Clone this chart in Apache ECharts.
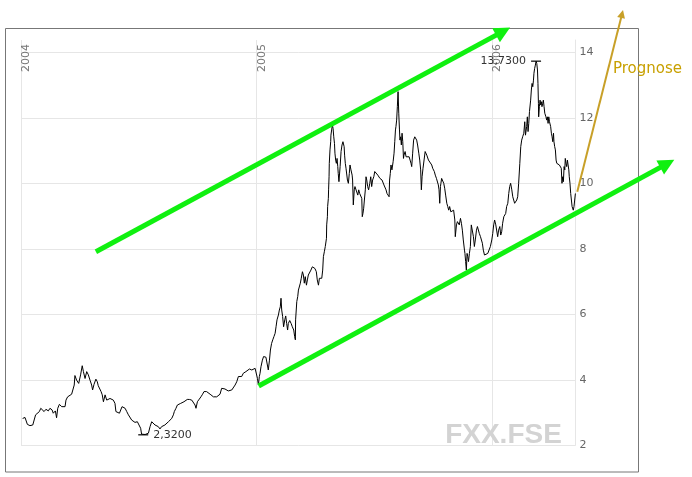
<!DOCTYPE html>
<html><head><meta charset="utf-8">
<script src="https://cdn.jsdelivr.net/npm/echarts@6/dist/echarts.min.js"></script>
<style>html,body{margin:0;padding:0;background:#fff}#c{width:692px;height:477px}</style>
</head><body><div id="c"></div>
<script>
// Time positions (decimal years) and closing prices
const years = [
2004.007,2004.017,2004.027,2004.038,2004.050,2004.058,2004.062,2004.069,2004.078,2004.084,
2004.092,2004.098,2004.106,2004.116,2004.123,2004.132,2004.137,2004.146,2004.151,2004.156,
2004.163,2004.173,2004.180,2004.187,2004.191,2004.198,2004.205,2004.215,2004.222,2004.226,
2004.229,2004.236,2004.245,2004.253,2004.260,2004.265,2004.272,2004.279,2004.286,2004.293,
2004.300,2004.304,2004.310,2004.318,2004.324,2004.328,2004.335,2004.340,2004.345,2004.350,
2004.357,2004.364,2004.371,2004.378,2004.385,2004.392,2004.399,2004.403,2004.409,2004.418,
2004.423,2004.429,2004.435,2004.442,2004.449,2004.456,2004.463,2004.470,2004.477,2004.484,
2004.494,2004.501,2004.508,2004.512,2004.519,2004.527,2004.531,2004.541,2004.548,2004.555,
2004.562,2004.569,2004.576,2004.583,2004.590,2004.597,2004.604,2004.611,2004.619,2004.626,
2004.633,2004.640,2004.647,2004.651,2004.658,2004.664,2004.672,2004.678,2004.685,2004.692,
2004.699,2004.706,2004.715,2004.725,2004.732,2004.739,2004.743,2004.749,2004.757,2004.764,
2004.771,2004.777,2004.783,2004.788,2004.796,2004.803,2004.810,2004.817,2004.824,2004.831,
2004.838,2004.845,2004.852,2004.859,2004.866,2004.873,2004.880,2004.887,2004.895,2004.902,
2004.909,2004.916,2004.923,2004.930,2004.937,2004.944,2004.955,2004.961,2004.970,2004.980,
2004.987,2004.994,2004.998,2005.004,2005.008,
2005.012,2005.015,2005.019,2005.025,2005.030,2005.036,2005.040,2005.045,2005.050,2005.055,
2005.059,2005.064,2005.069,2005.074,2005.079,2005.083,2005.087,2005.093,2005.097,2005.101,
2005.104,2005.107,2005.111,2005.115,2005.120,2005.124,2005.128,2005.132,2005.135,2005.141,
2005.147,2005.152,2005.158,2005.162,2005.165,2005.166,2005.171,2005.175,2005.178,2005.182,
2005.186,2005.190,2005.195,2005.199,2005.203,2005.207,2005.212,2005.216,2005.220,2005.226,
2005.231,2005.237,2005.243,2005.248,2005.254,2005.258,2005.263,2005.267,2005.272,2005.277,
2005.281,2005.284,2005.288,2005.292,2005.297,2005.298,2005.301,2005.302,2005.305,2005.306,
2005.308,2005.309,2005.312,2005.315,2005.316,2005.319,2005.322,2005.325,2005.328,2005.331,
2005.333,2005.336,2005.339,2005.342,2005.345,2005.347,2005.350,
2005.355,2005.359,2005.363,2005.367,2005.372,2005.374,2005.377,2005.380,2005.386,2005.390,
2005.394,2005.397,2005.401,2005.406,2005.408,2005.411,2005.415,2005.418,2005.423,2005.425,
2005.430,2005.434,2005.438,2005.442,2005.447,2005.449,2005.452,2005.455,2005.458,2005.462,
2005.465,2005.468,2005.472,2005.476,2005.481,2005.485,2005.489,2005.493,2005.498,2005.502,
2005.506,2005.510,2005.515,2005.519,2005.524,2005.529,2005.533,2005.537,2005.541,2005.546,
2005.550,2005.554,2005.558,2005.563,2005.565,2005.568,2005.571,2005.575,2005.580,2005.584,
2005.587,2005.590,2005.592,2005.595,2005.598,2005.601,2005.604,2005.607,2005.609,2005.612,
2005.615,2005.618,2005.621,2005.624,2005.626,2005.631,2005.635,2005.639,2005.643,2005.648,
2005.652,2005.656,2005.659,2005.663,2005.667,2005.672,2005.676,2005.680,2005.684,2005.689,
2005.693,2005.697,2005.700,2005.703,2005.707,2005.711,
2005.716,2005.720,2005.723,2005.727,2005.730,2005.734,2005.738,2005.744,2005.748,2005.752,
2005.755,2005.759,2005.764,2005.768,2005.772,2005.775,2005.778,2005.781,2005.783,2005.786,
2005.791,2005.795,2005.799,2005.803,2005.808,2005.812,2005.816,2005.820,2005.825,2005.829,
2005.833,2005.837,2005.842,2005.844,2005.849,2005.853,2005.857,2005.861,2005.866,2005.870,
2005.874,2005.878,2005.883,2005.885,2005.888,2005.891,2005.894,2005.897,2005.900,2005.904,
2005.908,2005.912,2005.917,2005.921,2005.925,2005.929,2005.934,2005.938,2005.942,2005.946,
2005.951,2005.955,2005.959,2005.963,2005.968,2005.972,2005.976,2005.982,2005.987,2005.993,
2005.999,2006.003,2006.007,2006.011,2006.016,2006.020,2006.024,2006.028,2006.033,2006.037,
2006.041,2006.045,2006.050,2006.054,
2006.058,2006.062,2006.067,2006.071,2006.075,2006.079,2006.084,2006.088,2006.092,2006.096,
2006.101,2006.105,2006.109,2006.113,2006.118,2006.122,2006.126,2006.130,2006.135,2006.139,
2006.142,2006.144,2006.147,2006.150,2006.153,2006.156,2006.159,2006.161,2006.164,2006.167,
2006.170,2006.173,2006.176,2006.178,2006.181,2006.184,2006.187,2006.190,2006.193,2006.195,
2006.197,2006.198,2006.201,2006.204,2006.207,2006.210,2006.212,2006.215,2006.218,2006.221,
2006.224,2006.227,2006.229,2006.232,2006.235,2006.238,2006.241,2006.244,2006.246,2006.249,
2006.252,2006.255,2006.258,2006.261,2006.263,2006.266,2006.269,2006.272,2006.275,2006.278,
2006.282,2006.286,2006.290,2006.294,2006.297,2006.300,2006.303,2006.306,2006.309,2006.311,
2006.314,2006.317,2006.320,2006.323,2006.326,2006.328,2006.331,2006.334,2006.337,2006.340,
2006.343,2006.345,2006.348,2006.351,2006.354
];
const prices = [
2.82,2.85,2.64,2.60,2.62,2.67,2.93,2.87,3.03,3.13,
3.11,3.03,3.10,3.05,3.13,3.08,2.98,3.05,2.84,3.13,
3.25,3.18,3.23,3.18,3.38,3.48,3.54,3.56,3.56,3.84,
4.13,3.99,3.89,4.15,4.43,4.25,4.04,4.25,4.15,3.99,
3.84,3.69,3.86,4.02,3.94,3.82,3.79,3.64,3.54,3.33,
3.54,3.38,3.43,3.43,3.43,3.38,3.28,3.03,3.01,2.98,
3.03,3.18,3.23,3.13,3.03,2.93,2.87,2.77,2.72,2.70,
2.72,2.72,2.52,2.34,2.32,2.33,2.34,2.37,2.57,2.72,
2.67,2.62,2.57,2.57,2.50,2.57,2.60,2.62,2.67,2.72,
2.77,2.82,2.93,3.03,3.13,3.23,3.23,3.28,3.33,3.33,
3.38,3.40,3.40,3.38,3.33,3.23,3.13,3.33,3.41,3.48,
3.56,3.64,3.59,3.64,3.66,3.56,3.52,3.48,3.54,3.48,
3.45,3.56,3.74,3.74,3.72,3.69,3.66,3.62,3.69,3.74,
3.84,3.94,4.10,4.15,4.10,4.20,4.25,4.30,4.33,4.30,
4.35,4.35,4.30,4.04,3.84,
4.10,4.20,4.40,4.60,4.71,4.66,4.69,4.63,4.30,4.60,
4.91,5.11,5.22,5.32,5.42,5.62,5.83,5.98,6.13,6.23,
6.49,6.13,5.93,5.62,5.83,5.95,5.72,5.52,5.72,5.81,
5.72,5.62,5.52,5.32,5.22,5.83,6.39,6.54,6.74,6.69,
6.95,7.10,7.30,7.20,6.95,7.15,6.89,7.05,7.20,7.25,
7.35,7.45,7.47,7.40,7.30,7.05,6.89,7.10,7.15,7.10,
7.35,7.76,7.91,8.07,8.32,8.73,8.98,9.29,9.54,9.80,
10.20,10.61,11.02,11.27,11.47,11.63,11.78,11.68,11.42,11.22,
10.92,10.71,10.61,10.76,10.51,10.30,10.05,
10.51,10.97,11.17,11.27,11.12,10.86,10.61,10.46,10.10,10.00,
10.30,10.56,10.41,10.25,10.10,9.34,9.80,9.90,9.85,9.85,
9.64,9.80,9.69,9.64,9.54,8.98,9.08,9.24,9.49,9.80,
10.20,10.10,9.90,9.80,10.00,10.20,9.90,10.10,10.20,10.36,
10.41,10.36,10.25,10.20,10.15,10.20,10.10,10.05,9.95,9.95,
9.80,9.69,9.64,9.59,10.10,10.30,10.56,10.41,10.66,10.92,
11.27,11.63,11.73,11.93,12.34,12.80,12.14,11.63,11.32,11.42,
11.17,11.53,11.27,10.76,10.86,10.97,10.81,10.86,10.76,10.81,
10.71,10.61,10.51,10.92,11.32,11.42,11.47,11.32,11.17,10.92,
10.71,10.41,9.80,10.20,10.46,10.51,
10.97,11.02,10.86,10.92,10.71,10.66,10.71,10.56,10.46,10.51,
10.36,10.25,10.15,10.20,9.95,9.80,9.39,9.90,10.00,10.15,
10.10,10.00,9.85,9.64,9.39,9.29,9.18,9.29,9.13,9.18,
9.08,9.18,8.88,8.37,8.73,8.83,8.78,8.73,8.93,8.78,
8.57,8.27,7.96,7.86,7.61,7.35,7.86,7.76,7.61,7.86,
8.07,8.73,8.68,8.37,8.07,8.27,8.57,8.68,8.63,8.47,
8.37,8.32,8.17,7.96,7.81,7.86,7.78,7.86,7.81,8.07,
8.27,8.47,8.73,8.88,8.73,8.78,8.37,8.57,8.68,8.42,
8.52,8.78,8.98,9.03,
9.08,9.29,9.39,9.69,9.90,10.00,9.80,9.59,9.49,9.39,
9.34,9.49,9.59,10.00,10.61,11.12,11.32,11.42,11.53,11.88,
11.47,11.42,11.73,12.03,11.58,11.83,12.19,12.19,12.54,12.85,
13.05,12.95,13.15,13.36,13.51,13.61,13.73,13.66,13.46,13.05,
12.44,12.03,12.34,12.54,12.39,12.49,12.34,12.44,12.54,12.34,
12.14,12.09,12.03,11.93,12.03,11.83,12.03,11.88,11.88,11.73,
11.53,11.42,11.27,11.53,11.27,11.12,11.02,10.71,10.61,10.61,
10.56,10.56,10.51,10.46,10.00,10.20,10.05,10.51,10.41,10.76,
10.61,10.51,10.71,10.56,10.41,10.20,10.00,9.69,9.49,9.29,
9.24,9.18,9.29,9.49,9.69
];
// Trend channel and forecast arrows: [startYear, startValue], [endYear, endValue]
const upperChannel = [[2004.318, 7.91], [2006.047, 14.64]];
const lowerChannel = [[2005.009, 3.81], [2006.744, 10.60]];
const prognoseArrow = [[2006.362, 9.74], [2006.552, 15.17]];
const xRange = [2004, 2006.354];
const yRange = [2, 14.376];
const watermark = 'FXX.FSE';
const prognoseText = 'Prognose';

const FONT = '"DejaVu Sans", Verdana, sans-serif';
const fmt = v => v.toFixed(4).replace('.', ',');
const chart = echarts.init(document.getElementById('c'), null, {renderer: 'canvas', width: 692, height: 477});
const option = {
  animation: false,
  backgroundColor: '#ffffff',
  grid: {left: 21, right: 116.6, top: 40, bottom: 31.7, containLabel: false, outerBoundsMode: 'none'},
  xAxis: {
    type: 'value', position: 'top', min: xRange[0], max: xRange[1], interval: 1,
    axisLine: {show: false}, axisTick: {show: false},
    axisLabel: {inside: true, rotate: -90, margin: 4, align: 'right', verticalAlign: 'top',
      color: '#777', fontSize: 11, fontFamily: FONT, showMaxLabel: false,
      formatter: v => String(Math.round(v))},
    splitLine: {show: true, lineStyle: {color: '#e6e6e6', width: 1}}
  },
  yAxis: {
    type: 'value', position: 'right', min: yRange[0], max: yRange[1], interval: 2,
    axisLine: {show: true, lineStyle: {color: '#e6e6e6'}}, axisTick: {show: false},
    axisLabel: {margin: 4, color: '#666', fontSize: 11, fontFamily: FONT, showMaxLabel: false},
    splitLine: {show: true, showMaxLine: false, lineStyle: {color: '#e6e6e6', width: 1}}
  },
  series: [
    {
      type: 'line', data: years.map((x, i) => [x, prices[i]]),
      showSymbol: false, symbol: 'none', z: 3,
      lineStyle: {color: '#000', width: 1}, itemStyle: {color: '#000'},
      emphasis: {disabled: true},
      markPoint: {
        symbol: 'rect', symbolSize: [10, 1.2], silent: true,
        itemStyle: {color: '#000'},
        label: {color: '#333', fontSize: 11, fontFamily: FONT, formatter: p => fmt(p.value)},
        data: [
          {type: 'max', label: {position: 'left', distance: 5}},
          {type: 'min', label: {position: 'right', distance: 5}}
        ]
      }
    },
    {
      type: 'lines', coordinateSystem: 'cartesian2d', clip: false, z: 4, silent: true,
      symbol: ['none', 'triangle'], symbolSize: 16,
      lineStyle: {color: '#10f010', width: 5, opacity: 1, curveness: 0},
      itemStyle: {color: '#10f010'},
      data: [{coords: upperChannel}, {coords: lowerChannel}]
    },
    {
      type: 'lines', coordinateSystem: 'cartesian2d', clip: false, z: 4, silent: true,
      symbol: ['none', 'triangle'], symbolSize: 8,
      lineStyle: {color: '#c8a028', width: 2, opacity: 1, curveness: 0},
      itemStyle: {color: '#c8a028'},
      data: [{coords: prognoseArrow}]
    }
  ],
  graphic: [
    {type: 'rect', z: 0, silent: true, shape: {x: 5.5, y: 28.5, width: 633, height: 443.5},
      style: {fill: 'none', stroke: '#777', lineWidth: 1}},
    {type: 'text', z: 1, silent: true, x: 503.5, y: 435,
      style: {text: watermark, fill: '#d3d3d3', font: 'bold 28px "Liberation Sans", Arial, sans-serif',
        textAlign: 'center', textVerticalAlign: 'middle', align: 'center', verticalAlign: 'middle'}},
    {type: 'text', z: 10, silent: true, x: 613, y: 69,
      style: {text: prognoseText, fill: '#c8a000', font: '15px "DejaVu Sans", sans-serif',
        textAlign: 'left', textVerticalAlign: 'middle', align: 'left', verticalAlign: 'middle'}}
  ]
};
chart.setOption(option);
</script>
</body></html>
